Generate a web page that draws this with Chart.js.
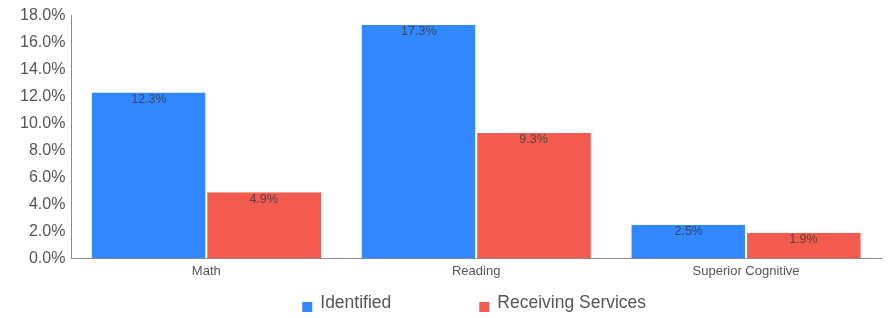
<!DOCTYPE html>
<html lang="en">
<head>
    <meta charset="UTF-8">
    <title>Identified vs Receiving Services</title>
    <script src="https://cdn.jsdelivr.net/npm/chart.js"></script>
    <style>
        body { margin: 0; background: #fff; }
        .chart-container { width: 888px; height: 318px; }
    </style>
</head>
<body>
    <div class="chart-container">
        <canvas id="chart"></canvas>
    </div>
    <script>
        // Data
        const categories = ['Math', 'Reading', 'Superior Cognitive'];
        const identified = [12.3, 17.3, 2.5];
        const receivingServices = [4.9, 9.3, 1.9];
        const seriesNames = ['Identified', 'Receiving Services'];
        const seriesColors = ['#3388ff', '#f45b4f'];

        const FONT = 'Arial, "Liberation Sans", sans-serif';

        // Draws the value label just inside the top of each bar
        const valueLabels = {
            id: 'valueLabels',
            afterDatasetsDraw(chart) {
                const ctx = chart.ctx;
                ctx.save();
                ctx.font = '12.5px ' + FONT;
                ctx.fillStyle = 'rgba(55, 55, 55, 0.8)';
                ctx.textAlign = 'center';
                ctx.textBaseline = 'top';
                chart.data.datasets.forEach((ds, i) => {
                    chart.getDatasetMeta(i).data.forEach((bar, j) => {
                        ctx.fillText(ds.data[j].toFixed(1) + '%', bar.x, bar.y + 0.5);
                    });
                });
                ctx.restore();
            }
        };

        // Bottom legend with a wide gap between items (built-in padding would also add height)
        const bottomLegend = {
            id: 'bottomLegend',
            afterDraw(chart) {
                const ctx = chart.ctx;
                const area = chart.chartArea;
                const box = 10, gapText = 8, gapItems = 88;
                ctx.save();
                ctx.font = '17.5px ' + FONT;
                ctx.textBaseline = 'middle';
                const widths = chart.data.datasets.map(ds => box + gapText + ctx.measureText(ds.label).width);
                const total = widths.reduce((a, b) => a + b, 0) + gapItems * (widths.length - 1);
                let x = (area.left + area.right) / 2 - total / 2 - 2;
                const y = 302;
                chart.data.datasets.forEach((ds, i) => {
                    ctx.fillStyle = ds.backgroundColor;
                    ctx.fillRect(x, y, box, box);
                    ctx.fillStyle = '#555';
                    ctx.fillText(ds.label, x + box + gapText, y + 1);
                    x += widths[i] + gapItems;
                });
                ctx.restore();
            }
        };

        new Chart(document.getElementById('chart'), {
            type: 'bar',
            data: {
                labels: categories,
                datasets: [{
                    label: seriesNames[0],
                    data: identified,
                    backgroundColor: seriesColors[0],
                    borderColor: '#ffffff',
                    borderWidth: { right: 1 },
                    categoryPercentage: 0.85,
                    barPercentage: 1
                }, {
                    label: seriesNames[1],
                    data: receivingServices,
                    backgroundColor: seriesColors[1],
                    borderColor: '#ffffff',
                    borderWidth: { left: 1 },
                    categoryPercentage: 0.85,
                    barPercentage: 1
                }]
            },
            options: {
                responsive: true,
                maintainAspectRatio: false,
                animation: false,
                layout: { padding: { top: 7, right: 7, left: 14, bottom: 34 } },
                plugins: {
                    legend: { display: false },
                    tooltip: { enabled: false }
                },
                scales: {
                    x: {
                        grid: { display: false, drawTicks: false },
                        border: { color: '#888', width: 1 },
                        ticks: { font: { size: 13, family: FONT }, color: '#555', padding: 5 }
                    },
                    y: {
                        min: 0,
                        max: 18,
                        grid: { display: false, drawTicks: false },
                        border: { color: '#888', width: 1 },
                        ticks: {
                            stepSize: 2,
                            autoSkip: false,
                            padding: 6,
                            font: { size: 16, family: FONT },
                            color: '#555',
                            callback: v => v.toFixed(1) + '%'
                        }
                    }
                }
            },
            plugins: [valueLabels, bottomLegend]
        });
    </script>
</body>
</html>
